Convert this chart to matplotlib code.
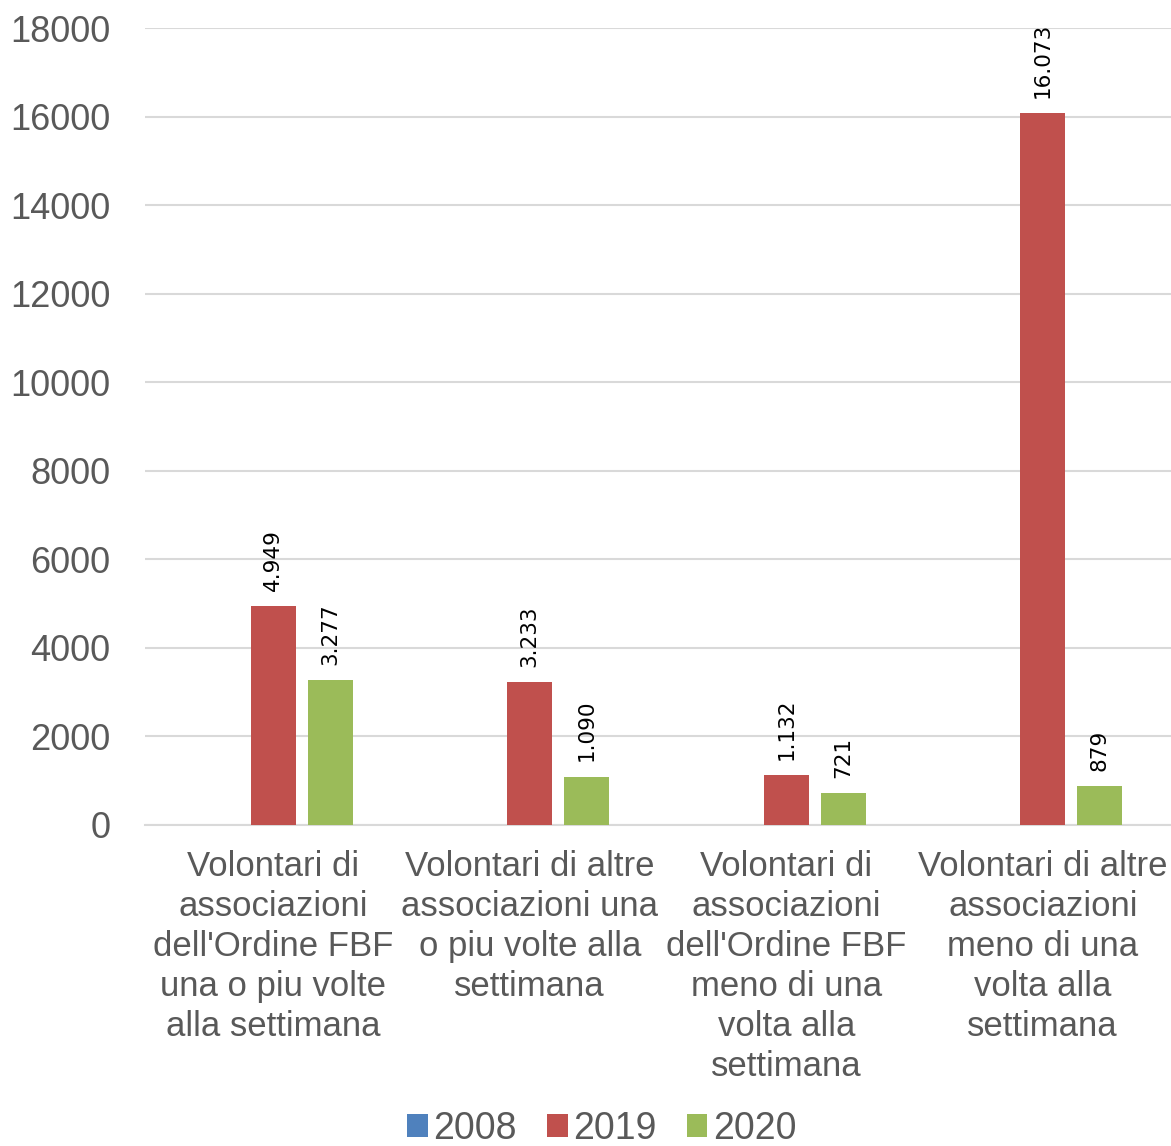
import numpy as np
import matplotlib.pyplot as plt

plt.rcParams['font.family'] = ['Liberation Sans', 'DejaVu Sans']

categories = [
    "Volontari di\nassociazioni\ndell'Ordine FBF\nuna o piu volte\nalla settimana",
    "Volontari di altre\nassociazioni una\no piu volte alla\nsettimana",
    "Volontari di\nassociazioni\ndell'Ordine FBF\nmeno di una\nvolta alla\nsettimana",
    "Volontari di altre\nassociazioni\nmeno di una\nvolta alla\nsettimana",
]
years = ["2008", "2019", "2020"]
v2008 = [0, 0, 0, 0]
v2019 = [4949, 3233, 1132, 16073]
v2020 = [3277, 1090, 721, 879]
colors = ["#4f81bd", "#c0504d", "#9bbb59"]


def fmt(v):
    return f"{v:,}".replace(",", ".")


def main():
    fig = plt.figure(figsize=(11.71, 11.46), dpi=100)
    ax = fig.add_axes([145 / 1171, 1 - 825 / 1146, 1026 / 1171, 797 / 1146])

    x = np.arange(len(categories))
    w = 0.175
    step = 0.222
    series = [v2008, v2019, v2020]
    for i, (yr, vals, c) in enumerate(zip(years, series, colors)):
        pos = x + (i - 1) * step
        ax.bar(pos, vals, width=w, color=c, label=yr, zorder=3)
        if i > 0:
            for p, v in zip(pos, vals):
                ax.annotate(fmt(v), (p, v), xytext=(0, 11), textcoords="offset points",
                            rotation=90, ha="center", va="bottom", fontsize=15.5,
                            color="black", family=["DejaVu Sans"])

    ax.set_xlim(-0.5, 3.5)
    ax.set_ylim(0, 18000)
    ax.set_yticks(range(0, 18001, 2000))
    ax.yaxis.grid(True, color="#d9d9d9", linewidth=1.5, zorder=0)
    ax.set_xticks(x)
    ax.set_xticklabels(categories, fontsize=25, color="#595959", linespacing=1.27)
    ax.tick_params(axis="y", labelsize=26, labelcolor="#595959", length=0, pad=25)
    ax.tick_params(axis="x", length=0, pad=18)
    for s in ["top", "right", "left"]:
        ax.spines[s].set_visible(False)
    ax.spines["bottom"].set_color("#d9d9d9")
    ax.spines["bottom"].set_linewidth(1.5)

    fig.legend(loc="lower center", bbox_to_anchor=(0.514, -0.03), ncol=3, frameon=False,
               fontsize=27, labelcolor="#595959", handlelength=0.55, handleheight=0.55,
               handletextpad=0.15, columnspacing=0.8)

    fig.savefig("out.png", dpi=100)


if __name__ == '__main__':
    main()
